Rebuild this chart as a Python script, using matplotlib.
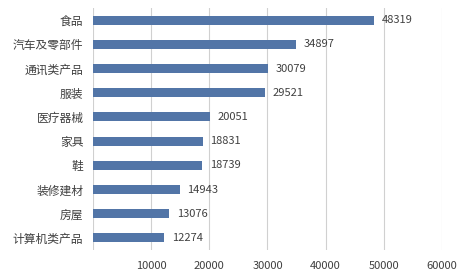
import matplotlib
matplotlib.use('Agg')
import matplotlib.pyplot as plt
import numpy as np

plt.rcParams['font.family'] = ['Noto Sans CJK SC', 'DejaVu Sans']

categories = ['食品', '汽车及零部件', '通讯类产品', '服装', '医疗器械',
              '家具', '鞋', '装修建材', '房屋', '计算机类产品']
values = [48319, 34897, 30079, 29521, 20051, 18831, 18739, 14943, 13076, 12274]
xticks = [10000, 20000, 30000, 40000, 50000, 60000]

bar_color = '#5275a7'
text_color = '#404040'

fig = plt.figure(figsize=(4.73, 2.79), dpi=100)
ax = fig.add_axes([0.197, 0.104, 0.737, 0.867])

y = np.arange(len(categories))
ax.barh(y, values, height=0.37, color=bar_color, zorder=3)

for yi, v in zip(y, values):
    ax.text(v + 1300, yi, str(v), va='center', ha='left',
            fontsize=8, color=text_color)

ax.set_xlim(0, 60000)
ax.set_ylim(len(categories) - 0.5, -0.5)
ax.set_yticks(y)
ax.set_yticklabels(categories, fontsize=8.5, color=text_color)
ax.set_xticks(xticks)
ax.set_xticklabels([str(t) for t in xticks], fontsize=8, color=text_color)
ax.tick_params(axis='both', length=0)
ax.tick_params(axis='x', pad=8)
ax.tick_params(axis='y', pad=7)

ax.grid(axis='x', color='#d0d0d0', linewidth=0.8, zorder=0)
ax.axvline(0, color='#d0d0d0', linewidth=0.8, zorder=1)
for s in ax.spines.values():
    s.set_visible(False)

fig.savefig('out.png', dpi=100)
